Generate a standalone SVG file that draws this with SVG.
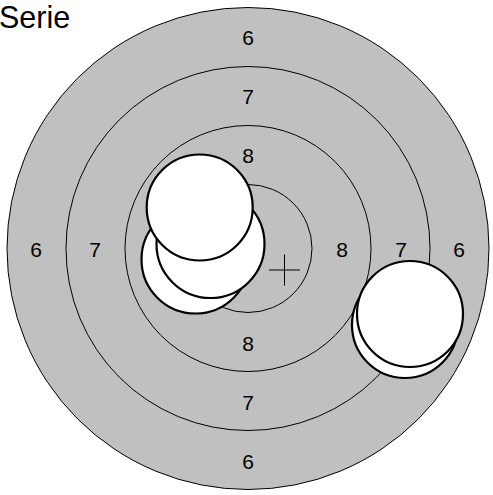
<svg xmlns="http://www.w3.org/2000/svg" width="493" height="495" viewBox="0 0 493 495">
<style>
.ring{fill:#c0c0c0;stroke:#000;stroke-width:1}
.ln{fill:none;stroke:#000;stroke-width:1}
.lbl{font-family:"Liberation Sans",Arial,sans-serif;font-size:21px;fill:#000;text-anchor:middle}
.shot{fill:#fff;stroke:#000;stroke-width:2.2}
</style>
<rect width="493" height="495" fill="#fff"/>
<text x="-1" y="28.3" style="font-family:'Liberation Sans',Arial,sans-serif;font-size:30.5px;fill:#000">Serie</text>
<g id="target">
<circle class="ring" cx="248" cy="248.5" r="241" stroke-width="1.3"/>
<circle class="ln" cx="248" cy="248.5" r="182"/>
<circle class="ln" cx="248" cy="248.5" r="123"/>
<circle class="ln" cx="248" cy="248.5" r="64"/>
</g>
<g id="labels">
<text class="lbl" x="248" y="44.7">6</text>
<text class="lbl" x="248" y="103.7">7</text>
<text class="lbl" x="248" y="162.7">8</text>
<text class="lbl" x="248" y="350.7">8</text>
<text class="lbl" x="248" y="409.7">7</text>
<text class="lbl" x="248" y="468.7">6</text>
<text class="lbl" x="36" y="256.7">6</text>
<text class="lbl" x="95" y="256.7">7</text>
<text class="lbl" x="342" y="256.7">8</text>
<text class="lbl" x="401" y="256.7">7</text>
<text class="lbl" x="459" y="256.7">6</text>
</g>
<g id="cross">
<path class="ln" d="M269 270H300M284.5 254.5V285.5" stroke-width="1.2"/>
</g>
<g id="shots-left">
<circle class="shot" cx="195.5" cy="259.5" r="54"/>
<circle class="shot" cx="210.5" cy="244" r="54"/>
<circle class="shot" cx="199.7" cy="207.5" r="53"/>
</g>
<g id="shots-right">
<circle class="shot" cx="405" cy="325" r="53"/>
<circle class="shot" cx="410" cy="314" r="53"/>
</g>
</svg>
